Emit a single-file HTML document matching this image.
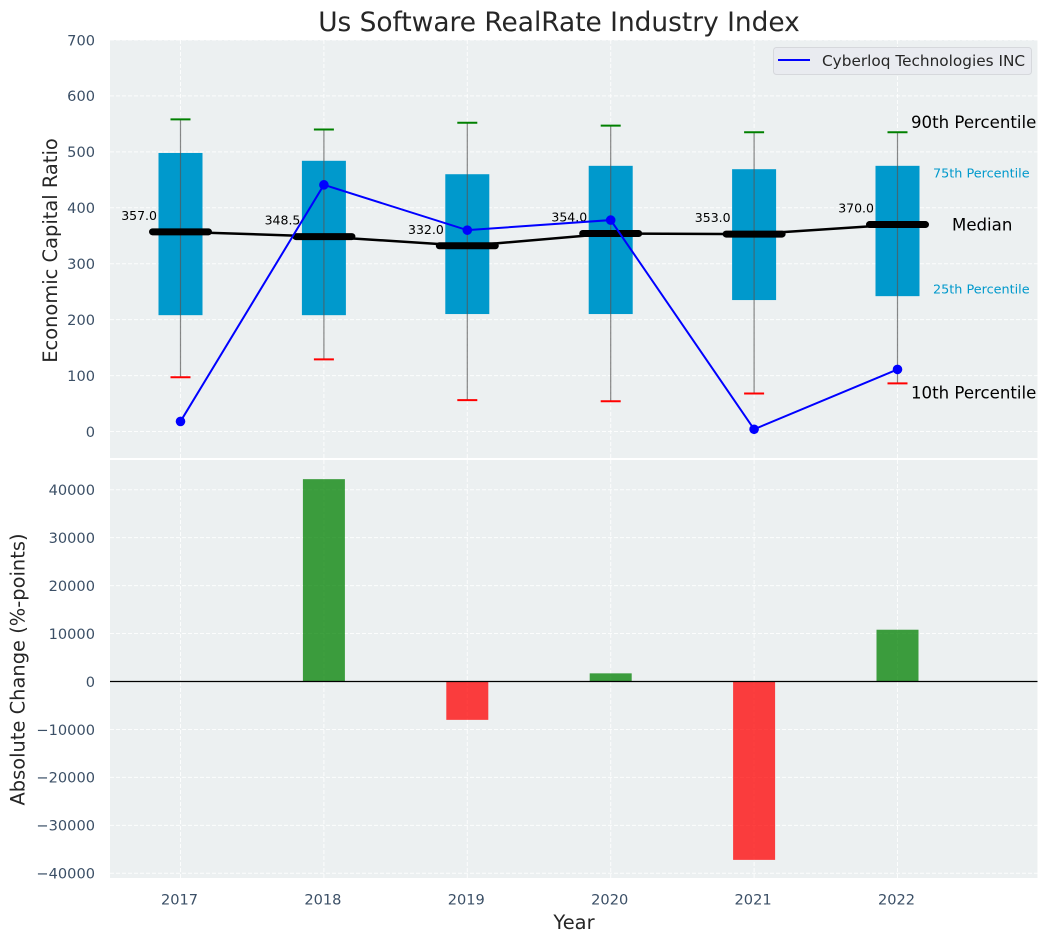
<!DOCTYPE html>
<html lang="en">
<head>
<meta charset="utf-8">
<title>Us Software RealRate Industry Index</title>
<style>
html,body{margin:0;padding:0;background:#fff;}
body{width:1048px;height:942px;overflow:hidden;}
svg{display:block;font-family:"DejaVu Sans","Liberation Sans",sans-serif;}
</style>
</head>
<body>
<svg id="chart" xmlns="http://www.w3.org/2000/svg" width="1048" height="942" viewBox="0 0 1048 942">
  <rect x="0" y="0" width="1048" height="942" fill="#ffffff"/>
  <rect x="110" y="40" width="927.5" height="418" fill="#ecf0f1"/>
  <rect x="110" y="460" width="927.5" height="418" fill="#ecf0f1"/>
  <g id="grid"></g>
  <g id="marks"></g>
  <g id="labels"></g>
  <text x="559" y="31" text-anchor="middle" font-size="26.4px" fill="#262626">Us Software RealRate Industry Index</text>
  <text transform="translate(57,250.5) rotate(-90)" text-anchor="middle" font-size="19.45px" fill="#262626">Economic Capital Ratio</text>
  <text transform="translate(24.5,669.5) rotate(-90)" text-anchor="middle" font-size="19.45px" fill="#262626">Absolute Change (%-points)</text>
  <text x="574" y="929" text-anchor="middle" font-size="19.45px" fill="#262626">Year</text>
  <g>
    <rect x="773.5" y="47.5" width="258" height="27" rx="3" fill="#e9ebf0" stroke="#d6d8dc" stroke-width="1"/>
    <line x1="778" y1="60" x2="810" y2="60" stroke="#0000ff" stroke-width="2"/>
    <text x="822" y="66" font-size="15.3px" fill="#262626">Cyberloq Technologies INC</text>
  </g>
</svg>
<script>
const years = [2017, 2018, 2019, 2020, 2021, 2022];
const p90 = [558, 540, 552, 547, 535, 535];
const p75 = [498, 484, 460, 475, 469, 475];
const medians = [357, 348.5, 332, 354, 353, 370];
const p25 = [208, 208, 210, 210, 235, 242];
const p10 = [97, 129, 56, 54, 68, 86];
const company = [18, 441, 360, 378, 4, 111];
const changes = [0, 42200, -8000, 1700, -37200, 10800];
const topTicks = [0, 100, 200, 300, 400, 500, 600, 700];
const bottomTicks = [-40000, -30000, -20000, -10000, 0, 10000, 20000, 30000, 40000];

const xScale = function (year) { return 180.5 + (year - 2017) * 143.4; };
const yTop = function (v) { return 431.5 - v * 0.5593; };
const yBottom = function (v) { return 681.5 - v * 0.004795; };

const NS = 'http://www.w3.org/2000/svg';
const gridLayer = document.getElementById('grid');
const marksLayer = document.getElementById('marks');
const labelsLayer = document.getElementById('labels');

function svgEl(tag, attrs, parent, text) {
  const el = document.createElementNS(NS, tag);
  Object.keys(attrs).forEach(function (k) { el.setAttribute(k, attrs[k]); });
  if (text !== undefined) el.textContent = text;
  parent.appendChild(el);
  return el;
}
const gridStyle = { stroke: '#ffffff', 'stroke-width': 1, 'stroke-dasharray': '4 2', 'stroke-opacity': 0.85 };

topTicks.forEach(function (t) {
  const y = yTop(t);
  const line = svgEl('line', Object.assign({ x1: 110, x2: 1037.5, y1: y, y2: y }, gridStyle), gridLayer);
  
  
  const label = svgEl('text', { x: 95, y: y + 5.3, 'text-anchor': 'end', 'font-size': '14.58px', fill: '#3b4f66' }, labelsLayer, String(t));
  
  
});

bottomTicks.forEach(function (t) {
  const y = yBottom(t);
  const line = svgEl('line', Object.assign({ x1: 110, x2: 1037.5, y1: y, y2: y }, gridStyle), gridLayer);
  
  
  const label = svgEl('text', { x: 95, y: y + 5.3, 'text-anchor': 'end', 'font-size': '14.58px', fill: '#3b4f66' }, labelsLayer, String(t).replace('-', '\u2212'));
  
  
});

years.forEach(function (year) {
  const x = xScale(year);
  const upper = svgEl('line', Object.assign({ x1: x, x2: x, y1: 40, y2: 458 }, gridStyle), gridLayer);
  
  
  const lower = svgEl('line', Object.assign({ x1: x, x2: x, y1: 460, y2: 878 }, gridStyle), gridLayer);
  
  
  const label = svgEl('text', { x: x - 1, y: 904.5, 'text-anchor': 'middle', 'font-size': '14.58px', fill: '#3b4f66' }, labelsLayer, String(year));
  
  
});

/* interquartile boxes */
years.forEach(function (year, i) {
  const x = xScale(year);
  const box = svgEl('rect', { x: x - 22, width: 44, y: yTop(p75[i]), height: yTop(p25[i]) - yTop(p75[i]), fill: '#0099cc' }, marksLayer);
  
  
});

/* whiskers and caps */
years.forEach(function (year, i) {
  const x = xScale(year);
  const whisker = svgEl('line', { x1: x, x2: x, y1: yTop(p90[i]), y2: yTop(p10[i]), stroke: '#555555', 'stroke-opacity': 0.7, 'stroke-width': 1.2 }, marksLayer);
  
  
  const capHigh = svgEl('line', { x1: x - 10, x2: x + 10, y1: yTop(p90[i]), y2: yTop(p90[i]), stroke: '#008000', 'stroke-width': 2 }, marksLayer);
  
  
  const capLow = svgEl('line', { x1: x - 10, x2: x + 10, y1: yTop(p10[i]), y2: yTop(p10[i]), stroke: '#ff0000', 'stroke-width': 2 }, marksLayer);
  
  
});

/* median trend line, thick median bars, median value labels */
const medianLine = svgEl('polyline', {
  points: years.map(function (year, i) { return xScale(year) + ',' + yTop(medians[i]); }).join(' '),
  fill: 'none', stroke: '#000000', 'stroke-width': 2.5
}, marksLayer);



years.forEach(function (year, i) {
  const x = xScale(year);
  const y = yTop(medians[i]);
  const bar = svgEl('line', { x1: x - 28, x2: x + 28, y1: y, y2: y, stroke: '#000000', 'stroke-width': 7, 'stroke-linecap': 'round' }, marksLayer);
  
  
  const label = svgEl('text', { x: x - 23.5, y: y - 12, 'text-anchor': 'end', 'font-size': '12.5px', fill: '#000000' }, marksLayer, medians[i].toFixed(1));
  
  
});

/* company series */
const companyLine = svgEl('polyline', {
  points: years.map(function (year, i) { return xScale(year) + ',' + yTop(company[i]); }).join(' '),
  fill: 'none', stroke: '#0000ff', 'stroke-width': 2
}, marksLayer);



years.forEach(function (year, i) {
  const point = svgEl('circle', { cx: xScale(year), cy: yTop(company[i]), r: 4.8, fill: '#0000ff' }, marksLayer);
  
  
});

/* percentile annotations anchored to the last year */
const last = years.length - 1;
const lastX = xScale(years[last]);

const note90 = svgEl('text', { x: lastX + 13.5, y: yTop(p90[last]) - 4.5, 'font-size': '16.6px', fill: '#000000' }, marksLayer, '90th Percentile');



const note75 = svgEl('text', { x: lastX + 35.5, y: yTop(p75[last]) + 11.5, 'font-size': '12.8px', fill: '#0099cc' }, marksLayer, '75th Percentile');



const noteMedian = svgEl('text', { x: lastX + 54.5, y: yTop(medians[last]) + 6, 'font-size': '16.6px', fill: '#000000' }, marksLayer, 'Median');



const note25 = svgEl('text', { x: lastX + 35.5, y: yTop(p25[last]) - 2.5, 'font-size': '12.8px', fill: '#0099cc' }, marksLayer, '25th Percentile');



const note10 = svgEl('text', { x: lastX + 13.5, y: yTop(p10[last]) + 15, 'font-size': '16.6px', fill: '#000000' }, marksLayer, '10th Percentile');



/* absolute change bars */
years.forEach(function (year, i) {
  const v = changes[i];
  const y0 = yBottom(0);
  const y1 = yBottom(v);
  const bar = svgEl('rect', {
    x: xScale(year) - 21, width: 42,
    y: Math.min(y0, y1), height: Math.abs(y1 - y0),
    fill: v >= 0 ? '#008000' : '#ff0000', 'fill-opacity': 0.75
  }, marksLayer);
  
  
});

const zeroLine = svgEl('line', { x1: 110, x2: 1037.5, y1: yBottom(0), y2: yBottom(0), stroke: '#000000', 'stroke-width': 1.2 }, marksLayer);


</script>
</body>
</html>
